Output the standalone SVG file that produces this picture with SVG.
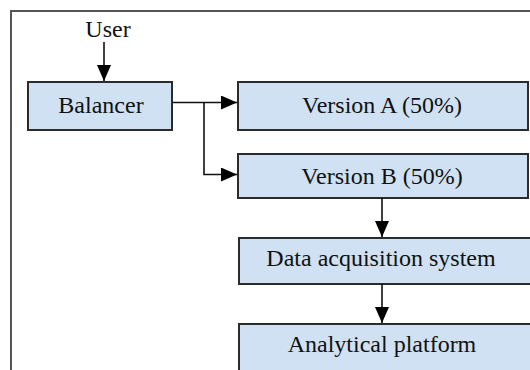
<svg xmlns="http://www.w3.org/2000/svg" width="530" height="370" viewBox="0 0 530 370">
<style>
.box{fill:#cfe1f2;stroke:#2b2b2b;stroke-width:2}
.lbl{font-family:"Liberation Serif","Times New Roman",serif;font-size:24px;fill:#111;text-anchor:middle}
.con{fill:none;stroke:#111;stroke-width:1.6}
</style>
<defs>
<marker id="ah" markerUnits="userSpaceOnUse" markerWidth="16" markerHeight="14" refX="16" refY="7" orient="auto">
<polygon points="0,0 16,7 0,14" fill="#000"/>
</marker>
</defs>
<rect x="11" y="11" width="600" height="500" fill="none" stroke="#555" stroke-width="2"/>
<g id="user"><text class="lbl" x="108" y="37">User</text></g>
<g id="balancer"><rect class="box" x="28" y="82" width="144" height="48"/><text class="lbl" x="101" y="113">Balancer</text></g>
<g id="versionA"><rect class="box" x="238" y="82" width="290" height="48"/><text class="lbl" x="382" y="113">Version A (50%)</text></g>
<g id="versionB"><rect class="box" x="238" y="154" width="290" height="44"/><text class="lbl" x="382" y="184">Version B (50%)</text></g>
<g id="dataacq"><rect class="box" x="239" y="238" width="300" height="46"/><text class="lbl" x="381" y="266">Data acquisition system</text></g>
<g id="analytical"><rect class="box" x="239" y="324" width="300" height="50"/><text class="lbl" x="382" y="352">Analytical platform</text></g>
<g id="connectors">
<path class="con" d="M104,42 V81" marker-end="url(#ah)"/>
<path class="con" d="M172,102.5 H237" marker-end="url(#ah)"/>
<path class="con" d="M204,102.5 V174.5 H237" marker-end="url(#ah)"/>
<path class="con" d="M382,198 V237" marker-end="url(#ah)"/>
<path class="con" d="M382,284 V323" marker-end="url(#ah)"/>
</g>
</svg>
